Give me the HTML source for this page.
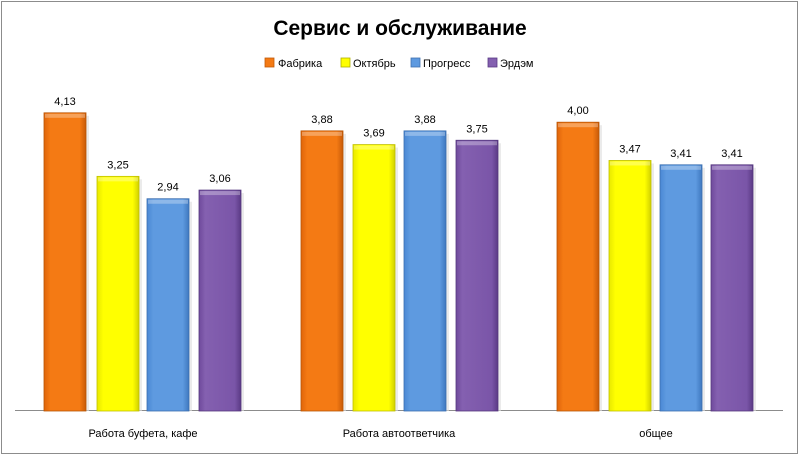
<!DOCTYPE html>
<html><head><meta charset="utf-8"><style>
body{margin:0;width:800px;height:456px;background:#fff;overflow:hidden}
svg{display:block}
text{font-family:"Liberation Sans","DejaVu Sans",sans-serif;fill:#000}
</style></head><body>
<svg width="800" height="456" viewBox="0 0 800 456">
<defs>
<linearGradient id="go" x1="0" x2="1"><stop offset="0" stop-color="#e0650a"/><stop offset=".15" stop-color="#f47a14"/><stop offset=".85" stop-color="#f47a14"/><stop offset="1" stop-color="#c85a08"/></linearGradient>
<linearGradient id="gy" x1="0" x2="1"><stop offset="0" stop-color="#e8e800"/><stop offset=".15" stop-color="#ffff00"/><stop offset=".85" stop-color="#ffff00"/><stop offset="1" stop-color="#d0d000"/></linearGradient>
<linearGradient id="gb" x1="0" x2="1"><stop offset="0" stop-color="#4a88d4"/><stop offset=".15" stop-color="#5e9ae0"/><stop offset=".85" stop-color="#5e9ae0"/><stop offset="1" stop-color="#3f78bf"/></linearGradient>
<linearGradient id="gp" x1="0" x2="1"><stop offset="0" stop-color="#6f4a9c"/><stop offset=".15" stop-color="#8460b0"/><stop offset=".85" stop-color="#7a55a8"/><stop offset="1" stop-color="#5a3a85"/></linearGradient>
</defs>
<rect x="1.5" y="1.5" width="796" height="452" fill="#fff" stroke="#8c8c8c" stroke-width="1"/>
<text x="400" y="35" font-size="21" font-weight="bold" text-anchor="middle">Сервис и обслуживание</text>
<g font-size="11">
<rect x="265" y="58" width="9" height="9" fill="#f47a14" stroke="#c05a08" stroke-width=".8"/><text x="278" y="67">Фабрика</text>
<rect x="341" y="58" width="9" height="9" fill="#ffff00" stroke="#b0b000" stroke-width=".8"/><text x="353" y="67">Октябрь</text>
<rect x="411" y="58" width="9" height="9" fill="#5e9ae0" stroke="#3f70b0" stroke-width=".8"/><text x="423" y="67">Прогресс</text>
<rect x="488" y="58" width="9" height="9" fill="#8460b0" stroke="#5a3a85" stroke-width=".8"/><text x="500" y="67">Эрдэм</text>
</g>
<line x1="15" y1="410.5" x2="783" y2="410.5" stroke="#8c8c8c" stroke-width="1"/>
<g id="bars"></g>
<g font-size="11" text-anchor="middle">
<text x="143" y="437">Работа буфета, кафе</text>
<text x="399" y="437">Работа автоответчика</text>
<text x="656" y="437">общее</text>
</g>
</svg>
<script>
var g=document.getElementById('bars');
var xs=[[44,97,147,199],[301,353,404,456],[557,609,660,711]];
var v=[[4.13,3.25,2.94,3.06],[3.88,3.69,3.88,3.75],[4.00,3.47,3.41,3.41]];
var f=['go','gy','gb','gp'];var s=['#b85506','#c0c000','#3b6fb0','#55387e'];
var h='';
for(var i=0;i<3;i++)for(var j=0;j<4;j++){
var x=xs[i][j],t=411-v[i][j]*72.2,w=42;
h+='<rect x="'+(x+3)+'" y="'+(t+3)+'" width="'+w+'" height="'+(408-t)+'" fill="#ddd" opacity=".6"/>';
h+='<rect x="'+x+'" y="'+t+'" width="'+w+'" height="'+(411-t)+'" fill="url(#'+f[j]+')" stroke="'+s[j]+'" stroke-width=".8"/>';
h+='<rect x="'+(x+1)+'" y="'+(t+1)+'" width="'+(w-2)+'" height="4" fill="#fff" opacity=".3"/>';
h+='<text x="'+(x+w/2)+'" y="'+(t-8)+'" font-size="11" text-anchor="middle">'+v[i][j].toFixed(2).replace('.',',')+'</text>';
}
g.innerHTML=h;
</script>
</body></html>
